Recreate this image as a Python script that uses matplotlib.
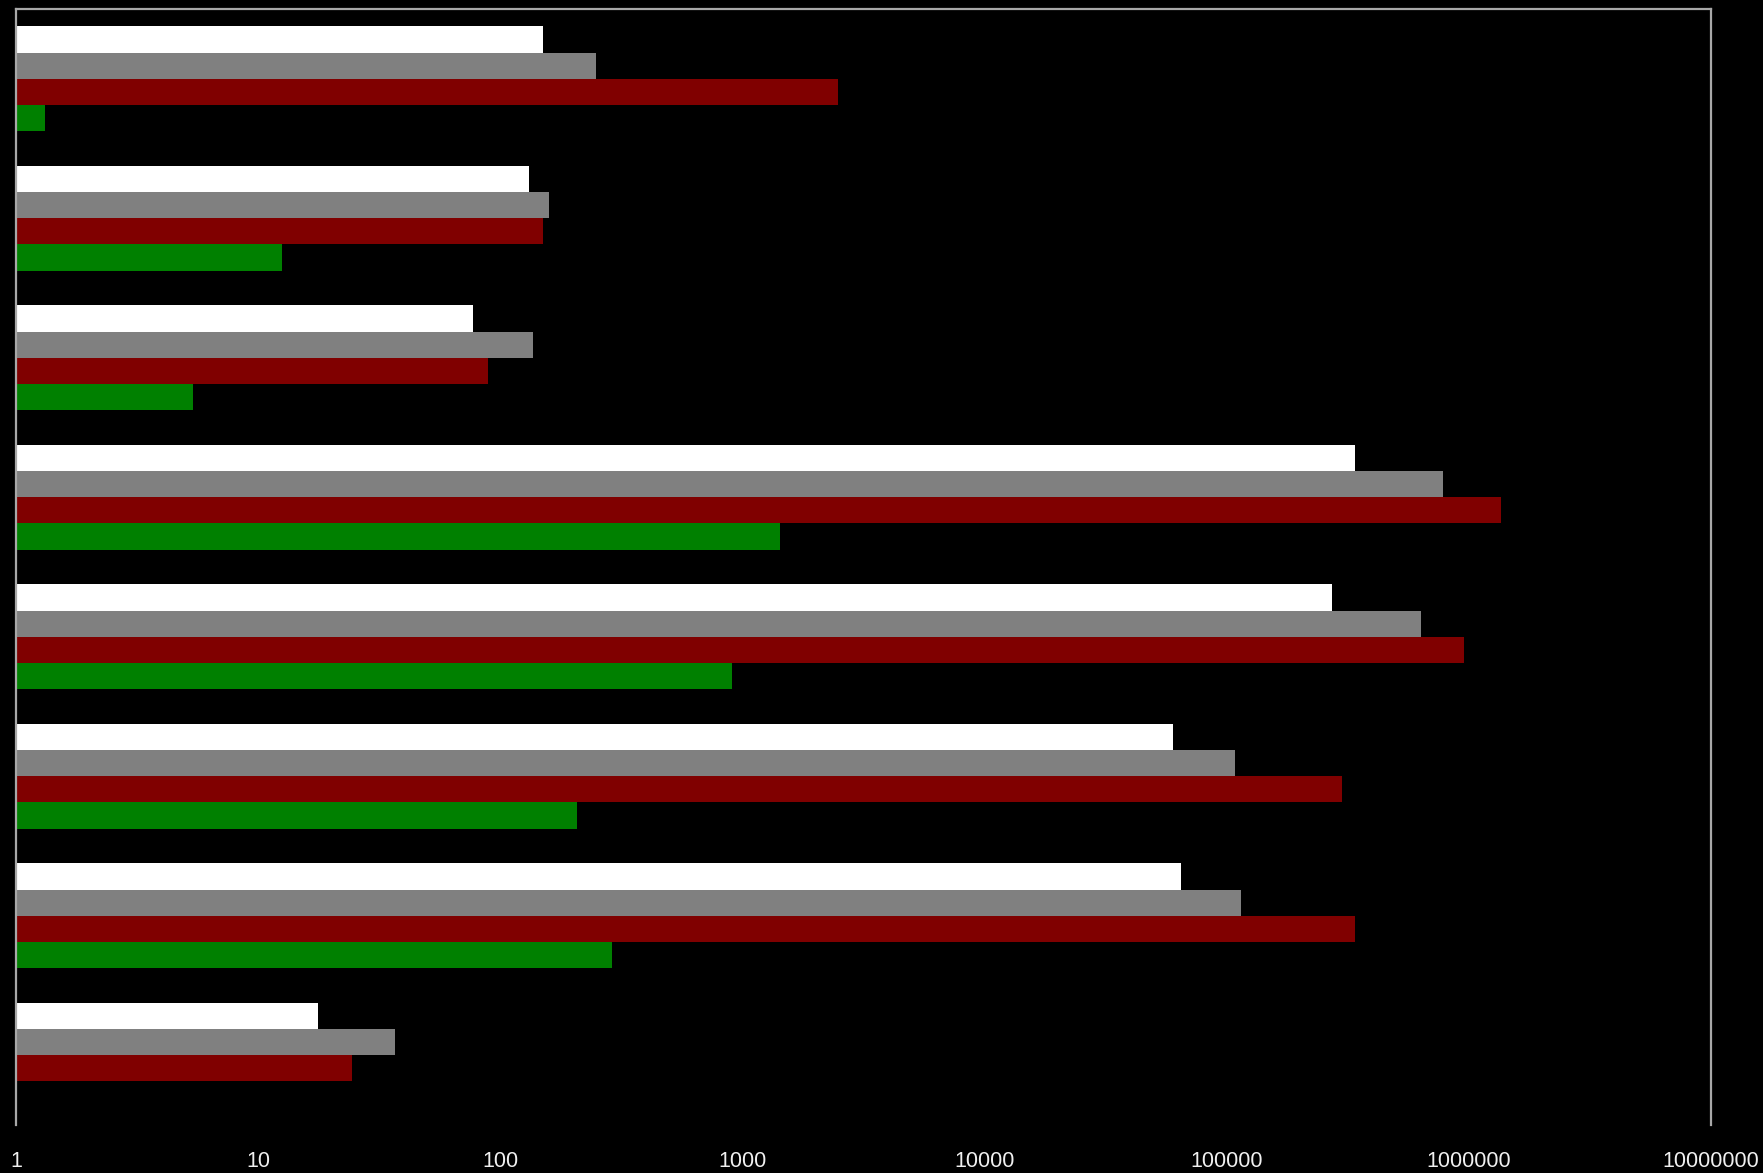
import numpy as np
import matplotlib.pyplot as plt
from matplotlib import font_manager

# values (log scale), one list per series, top group first
white_vals = [150, 131, 77, 338000, 273000, 59900, 64500, 17.7]
gray_vals = [249, 159, 137, 779000, 636000, 107800, 114900, 36.7]
red_vals = [2475, 150, 89, 1358000, 954000, 300700, 338000, 24.4]
green_vals = [1.32, 12.5, 5.4, 1435, 907, 207, 289, 1.0]
series_colors = ['#ffffff', '#808080', '#800000', '#008000']
tick_vals = [1, 10, 100, 1000, 10000, 100000, 1000000, 10000000]
tick_labels = [str(t) for t in tick_vals]

names = [f.name for f in font_manager.fontManager.ttflist]
if 'Liberation Sans Narrow' in names:
    label_font, label_size = 'Liberation Sans Narrow', 18
else:
    label_font, label_size = 'Liberation Sans', 15.5

fig = plt.figure(figsize=(17.63, 11.73), dpi=100, facecolor='black')
ax = fig.add_axes([16 / 1763, 1 - 1125 / 1173, (1711 - 16) / 1763, (1125 - 9) / 1173])
ax.set_facecolor('black')

ind = np.arange(len(white_vals))
height = 0.75 / 4
all_series = [white_vals, gray_vals, red_vals, green_vals]
for k, vals in enumerate(all_series):
    pos = ind - 0.375 + height * (k + 0.5)
    ax.barh(pos, np.array(vals) - 1, left=1, height=height, color=series_colors[k], linewidth=0)

ax.set_xscale('log')
ax.set_xlim(1, 1e7)
ax.set_ylim(7.5, -0.5)
ax.set_yticks([])
ax.set_xticks(tick_vals)
ax.set_xticklabels(tick_labels, fontsize=label_size, color='#f0f0f0', family=[label_font, 'DejaVu Sans'])
ax.xaxis.set_minor_locator(plt.NullLocator())
ax.tick_params(axis='x', length=0, pad=19)

for side in ['top', 'left', 'right']:
    ax.spines[side].set_color('#a8a8a8')
    ax.spines[side].set_linewidth(1.6)
ax.spines['bottom'].set_visible(False)

fig.savefig('out.png', dpi=100, facecolor='black')
